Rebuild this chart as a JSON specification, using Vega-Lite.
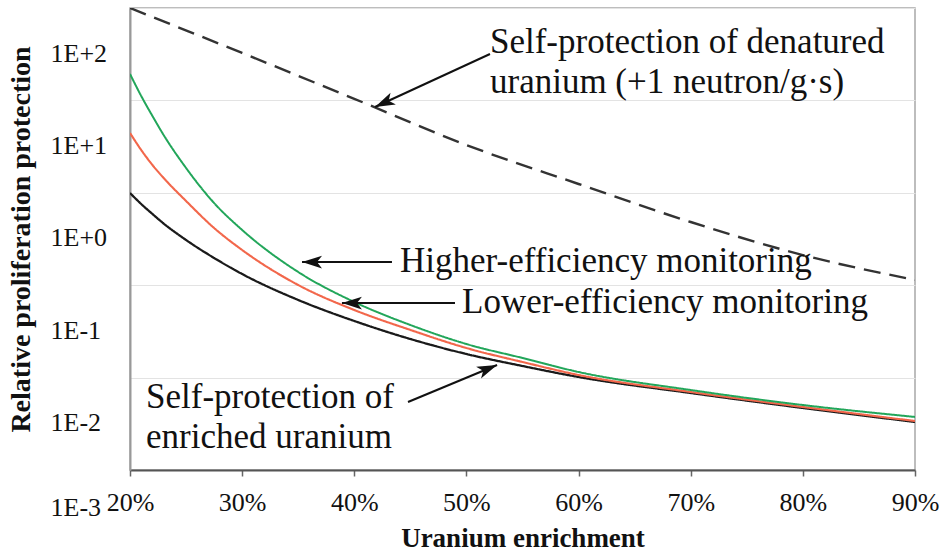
{
  "$schema": "https://vega.github.io/schema/vega-lite/v6.json",
  "width": 785,
  "height": 462,
  "autosize": {"type": "none"},
  "padding": {"left": 130, "top": 8, "right": 25, "bottom": 84},
  "background": "white",
  "config": {
    "view": {"stroke": "#a8a8a8", "strokeWidth": 1.5},
    "font": "Liberation Serif"
  },
  "datasets": {
    "curves": [
      {"series": "denatured", "e": 20, "v": 100},
      {"series": "denatured", "e": 30, "v": 32.6},
      {"series": "denatured", "e": 40, "v": 10.4},
      {"series": "denatured", "e": 50, "v": 3.29},
      {"series": "denatured", "e": 60, "v": 1.245},
      {"series": "denatured", "e": 70, "v": 0.483},
      {"series": "denatured", "e": 80, "v": 0.212},
      {"series": "denatured", "e": 90, "v": 0.114},
      {"series": "enriched", "e": 20, "v": 0.995},
      {"series": "enriched", "e": 21, "v": 0.756},
      {"series": "enriched", "e": 22, "v": 0.59},
      {"series": "enriched", "e": 23, "v": 0.465},
      {"series": "enriched", "e": 25, "v": 0.3084},
      {"series": "enriched", "e": 27.5, "v": 0.197},
      {"series": "enriched", "e": 30, "v": 0.1322},
      {"series": "enriched", "e": 35, "v": 0.0692},
      {"series": "enriched", "e": 40, "v": 0.041},
      {"series": "enriched", "e": 45, "v": 0.02616},
      {"series": "enriched", "e": 50, "v": 0.018},
      {"series": "enriched", "e": 55, "v": 0.01335},
      {"series": "enriched", "e": 60, "v": 0.01015},
      {"series": "enriched", "e": 70, "v": 0.00681},
      {"series": "enriched", "e": 80, "v": 0.00469},
      {"series": "enriched", "e": 90, "v": 0.00331},
      {"series": "lower", "e": 20, "v": 4.44},
      {"series": "lower", "e": 21, "v": 2.905},
      {"series": "lower", "e": 22, "v": 2.0},
      {"series": "lower", "e": 23, "v": 1.446},
      {"series": "lower", "e": 25, "v": 0.815},
      {"series": "lower", "e": 27.5, "v": 0.416},
      {"series": "lower", "e": 30, "v": 0.2404},
      {"series": "lower", "e": 35, "v": 0.1005},
      {"series": "lower", "e": 40, "v": 0.0539},
      {"series": "lower", "e": 45, "v": 0.0328},
      {"series": "lower", "e": 50, "v": 0.0209},
      {"series": "lower", "e": 55, "v": 0.01475},
      {"series": "lower", "e": 60, "v": 0.01067},
      {"series": "lower", "e": 70, "v": 0.00699},
      {"series": "lower", "e": 80, "v": 0.00481},
      {"series": "lower", "e": 90, "v": 0.00339},
      {"series": "higher", "e": 20, "v": 19.31},
      {"series": "higher", "e": 21, "v": 11.16},
      {"series": "higher", "e": 22, "v": 6.78},
      {"series": "higher", "e": 23, "v": 4.22},
      {"series": "higher", "e": 25, "v": 1.855},
      {"series": "higher", "e": 27.5, "v": 0.775},
      {"series": "higher", "e": 30, "v": 0.396},
      {"series": "higher", "e": 35, "v": 0.139},
      {"series": "higher", "e": 40, "v": 0.0658},
      {"series": "higher", "e": 45, "v": 0.0371},
      {"series": "higher", "e": 50, "v": 0.0231},
      {"series": "higher", "e": 55, "v": 0.0163},
      {"series": "higher", "e": 60, "v": 0.0115},
      {"series": "higher", "e": 70, "v": 0.00734},
      {"series": "higher", "e": 80, "v": 0.00505},
      {"series": "higher", "e": 90, "v": 0.00375}
    ],
    "labels": [
      {"text": "Self-protection of denatured", "e": 52.1, "v": 32.6},
      {"text": "uranium (+1 neutron/g·s)", "e": 52.1, "v": 12.0},
      {"text": "Higher-efficiency monitoring", "e": 44.08, "v": 0.139},
      {"text": "Lower-efficiency monitoring", "e": 49.61, "v": 0.05},
      {"text": "Self-protection of", "e": 21.43, "v": 0.00469},
      {"text": "enriched uranium", "e": 21.43, "v": 0.00173}
    ],
    "arrows": [
      {"id": "A1", "e": 52.1, "v": 31.8, "e2": 41.85, "v2": 8.49},
      {"id": "A2", "e": 43.36, "v": 0.178, "e2": 35.34, "v2": 0.178},
      {"id": "A3", "e": 48.98, "v": 0.0641, "e2": 38.9, "v2": 0.0641},
      {"id": "A4", "e": 44.79, "v": 0.00544, "e2": 52.73, "v2": 0.01368}
    ]
  },
  "layer": [
    {
      "data": {"name": "curves"},
      "mark": {"type": "line", "interpolate": "monotone", "clip": true},
      "encoding": {
        "x": {
          "field": "e", "type": "quantitative",
          "scale": {"domain": [20, 90], "nice": false, "zero": false},
          "title": "Uranium enrichment",
          "axis": {
            "values": [20, 30, 40, 50, 60, 70, 80, 90],
            "labelExpr": "datum.value + '%'",
            "labelFont": "Liberation Serif", "labelFontSize": 26, "labelColor": "#111",
            "labelPadding": 13, "labelFlush": false,
            "tickSize": 6, "tickColor": "#666", "tickWidth": 1.5,
            "domainColor": "#555", "domainWidth": 2, "grid": false,
            "titleFont": "Liberation Serif", "titleFontSize": 27, "titleFontWeight": "bold",
            "titleColor": "#111", "titlePadding": 10
          }
        },
        "y": {
          "field": "v", "type": "quantitative",
          "scale": {"type": "log", "domain": [0.001, 100], "nice": false},
          "title": "Relative proliferation protection",
          "axis": {
            "values": [0.001, 0.01, 0.1, 1, 10, 100],
            "labelExpr": "'1E' + (datum.value >= 1 ? '+' : '-') + abs(round(log(datum.value) / LN10))",
            "labelFont": "Liberation Serif", "labelFontSize": 26, "labelColor": "#111",
            "labelAlign": "left", "labelPadding": 80, "labelFlush": false,
            "labelOffset": {"condition": {"test": "datum.value < 0.002", "value": 37}, "value": 45},
            "ticks": false, "tickSize": 0,
            "domainColor": "#999", "domainWidth": 2,
            "grid": true, "gridColor": "#e3e3e3", "gridWidth": 1.2,
            "titleFont": "Liberation Serif", "titleFontSize": 28, "titleFontWeight": "bold",
            "titleColor": "#111", "titlePadding": 15
          }
        },
        "color": {
          "field": "series", "type": "nominal",
          "scale": {"domain": ["denatured", "enriched", "lower", "higher"], "range": ["#333333", "#1a1a1a", "#f2674b", "#22a65a"]},
          "legend": null
        },
        "strokeDash": {
          "field": "series", "type": "nominal",
          "scale": {"domain": ["denatured", "enriched", "lower", "higher"], "range": [[17, 9], [1, 0], [1, 0], [1, 0]]},
          "legend": null
        },
        "strokeWidth": {
          "field": "series", "type": "nominal",
          "scale": {"domain": ["denatured", "enriched", "lower", "higher"], "range": [2.4, 2, 3.6, 3]},
          "legend": null
        }
      }
    },
    {
      "data": {"name": "arrows"},
      "mark": {"type": "rule", "color": "#111", "strokeWidth": 2},
      "encoding": {
        "x": {"field": "e", "type": "quantitative"},
        "y": {"field": "v", "type": "quantitative"},
        "x2": {"field": "e2"},
        "y2": {"field": "v2"}
      }
    },
    {
      "data": {"name": "arrows"},
      "transform": [{"filter": "datum.id === 'A1'"}],
      "mark": {"type": "point", "shape": "M0,0 L-1,-0.32 L-0.75,0 L-1,0.32 Z", "filled": true, "size": 1600, "angle": 155.3, "color": "#111", "opacity": 1, "strokeWidth": 0},
      "encoding": {"x": {"field": "e2", "type": "quantitative"}, "y": {"field": "v2", "type": "quantitative"}}
    },
    {
      "data": {"name": "arrows"},
      "transform": [{"filter": "datum.id === 'A2' || datum.id === 'A3'"}],
      "mark": {"type": "point", "shape": "M0,0 L-1,-0.32 L-0.75,0 L-1,0.32 Z", "filled": true, "size": 1600, "angle": 180, "color": "#111", "opacity": 1, "strokeWidth": 0},
      "encoding": {"x": {"field": "e2", "type": "quantitative"}, "y": {"field": "v2", "type": "quantitative"}}
    },
    {
      "data": {"name": "arrows"},
      "transform": [{"filter": "datum.id === 'A4'"}],
      "mark": {"type": "point", "shape": "M0,0 L-1,-0.32 L-0.75,0 L-1,0.32 Z", "filled": true, "size": 1600, "angle": 337.4, "color": "#111", "opacity": 1, "strokeWidth": 0},
      "encoding": {"x": {"field": "e2", "type": "quantitative"}, "y": {"field": "v2", "type": "quantitative"}}
    },
    {
      "data": {"name": "labels"},
      "mark": {"type": "text", "align": "left", "baseline": "alphabetic", "font": "Liberation Serif", "fontSize": 35, "color": "#111"},
      "encoding": {
        "x": {"field": "e", "type": "quantitative"},
        "y": {"field": "v", "type": "quantitative"},
        "text": {"field": "text"}
      }
    }
  ]
}
